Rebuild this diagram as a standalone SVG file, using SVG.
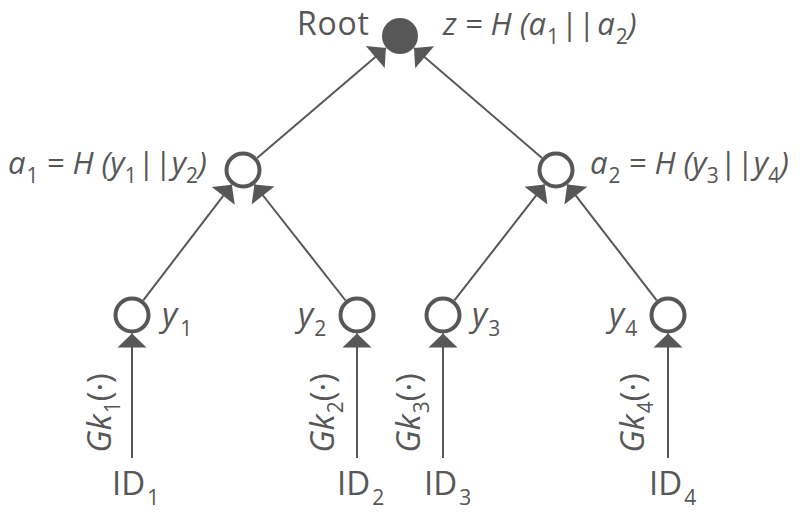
<svg xmlns="http://www.w3.org/2000/svg" width="805" height="530" viewBox="0 0 805 530">
  <style>
    text { font-family: "Open Sans", "Liberation Sans", sans-serif; fill: #575757; font-size: 33px; }
    .top { font-size: 32px; }
    .eq { font-size: 31px; }
    .it { font-style: italic; }
    .up { font-style: normal; }
    .sub { font-size: 21px; font-style: normal; }
    .node { fill: #ffffff; stroke: #575757; stroke-width: 4; }
    .root { fill: #575757; }
    .edge { stroke: #575757; stroke-width: 2; fill: none; marker-end: url(#arrow); }
  </style>
  <defs>
    <!-- wide flat arrowhead, tip at the line end -->
    <marker id="arrow" markerUnits="userSpaceOnUse" refX="0" refY="0" markerWidth="30" markerHeight="30" orient="auto" overflow="visible">
      <path d="M-14,-14.5 L0,0 L-14,14.5 Z" fill="#575757"/>
    </marker>
  </defs>

  <rect width="805" height="530" fill="#ffffff"/>

  <!-- connectors -->
  <g id="connectors">
    <line class="edge" x1="257.1" y1="158" x2="385.9" y2="48"/>
    <line class="edge" x1="542" y1="157.9" x2="414" y2="48.1"/>
    <line class="edge" x1="143.2" y1="300.3" x2="231.8" y2="184.7"/>
    <line class="edge" x1="345.6" y1="300.5" x2="254.4" y2="184.5"/>
    <line class="edge" x1="454.4" y1="300.4" x2="544.6" y2="184.6"/>
    <line class="edge" x1="656.7" y1="300.4" x2="567.3" y2="184.6"/>
    <line class="edge" x1="132" y1="458" x2="132" y2="333.5"/>
    <line class="edge" x1="357" y1="458" x2="357" y2="333.5"/>
    <line class="edge" x1="443" y1="458" x2="443" y2="333.5"/>
    <line class="edge" x1="668" y1="458" x2="668" y2="333.5"/>
  </g>

  <!-- root -->
  <g id="root">
    <circle class="root" cx="400" cy="36" r="18"/>
    <text x="297" y="35" class="top" textLength="72">Root</text>
    <text x="443" y="35" class="top eq it">z = H (a<tspan class="sub" dx="1" dy="9">1</tspan><tspan class="up" dx="2" dy="-9">||</tspan><tspan dx="2">a</tspan><tspan class="sub" dx="1" dy="9">2</tspan><tspan dy="-9">)</tspan></text>
  </g>

  <!-- hash level -->
  <g id="a1">
    <circle class="node" cx="243" cy="170" r="16.5"/>
    <text x="8" y="174" class="eq it">a<tspan class="sub" dx="1" dy="9">1</tspan><tspan dy="-9"> = H (y</tspan><tspan class="sub" dy="9">1</tspan><tspan class="up" dx="1" dy="-9">||</tspan>y<tspan class="sub" dy="9">2</tspan><tspan dy="-9">)</tspan></text>
  </g>
  <g id="a2">
    <circle class="node" cx="556" cy="170" r="16.5"/>
    <text x="590" y="174" class="eq it">a<tspan class="sub" dx="1" dy="9">2</tspan><tspan dy="-9"> = H (y</tspan><tspan class="sub" dy="9">3</tspan><tspan class="up" dx="1" dy="-9">||</tspan>y<tspan class="sub" dy="9">4</tspan><tspan dy="-9">)</tspan></text>
  </g>

  <!-- leaf values -->
  <g id="y1">
    <circle class="node" cx="132" cy="315" r="16.5"/>
    <text x="162" y="326" class="it">y<tspan class="sub" dx="3" dy="10">1</tspan></text>
  </g>
  <g id="y2">
    <circle class="node" cx="357" cy="315" r="16.5"/>
    <text x="298" y="326" class="it">y<tspan class="sub" dx="1" dy="10">2</tspan></text>
  </g>
  <g id="y3">
    <circle class="node" cx="443" cy="315" r="16.5"/>
    <text x="472" y="326" class="it">y<tspan class="sub" dx="1" dy="10">3</tspan></text>
  </g>
  <g id="y4">
    <circle class="node" cx="668" cy="315" r="16.5"/>
    <text x="609" y="326" class="it">y<tspan class="sub" dx="1" dy="10">4</tspan></text>
  </g>

  <!-- identities -->
  <g id="id1">
    <text x="112" y="495">ID<tspan class="sub" dx="2" dy="10">1</tspan></text>
    <text transform="translate(111 413) rotate(-90)" text-anchor="middle" class="it">Gk<tspan class="sub" dx="1" dy="9">1</tspan><tspan class="up" dy="-9">(·)</tspan></text>
  </g>
  <g id="id2">
    <text x="337" y="495">ID<tspan class="sub" dx="2" dy="10">2</tspan></text>
    <text transform="translate(334 413) rotate(-90)" text-anchor="middle" class="it">Gk<tspan class="sub" dx="1" dy="9">2</tspan><tspan class="up" dy="-9">(·)</tspan></text>
  </g>
  <g id="id3">
    <text x="424" y="495">ID<tspan class="sub" dx="2" dy="10">3</tspan></text>
    <text transform="translate(420 413) rotate(-90)" text-anchor="middle" class="it">Gk<tspan class="sub" dx="1" dy="9">3</tspan><tspan class="up" dy="-9">(·)</tspan></text>
  </g>
  <g id="id4">
    <text x="649" y="495">ID<tspan class="sub" dx="2" dy="10">4</tspan></text>
    <text transform="translate(644 413) rotate(-90)" text-anchor="middle" class="it">Gk<tspan class="sub" dx="1" dy="9">4</tspan><tspan class="up" dy="-9">(·)</tspan></text>
  </g>
</svg>
